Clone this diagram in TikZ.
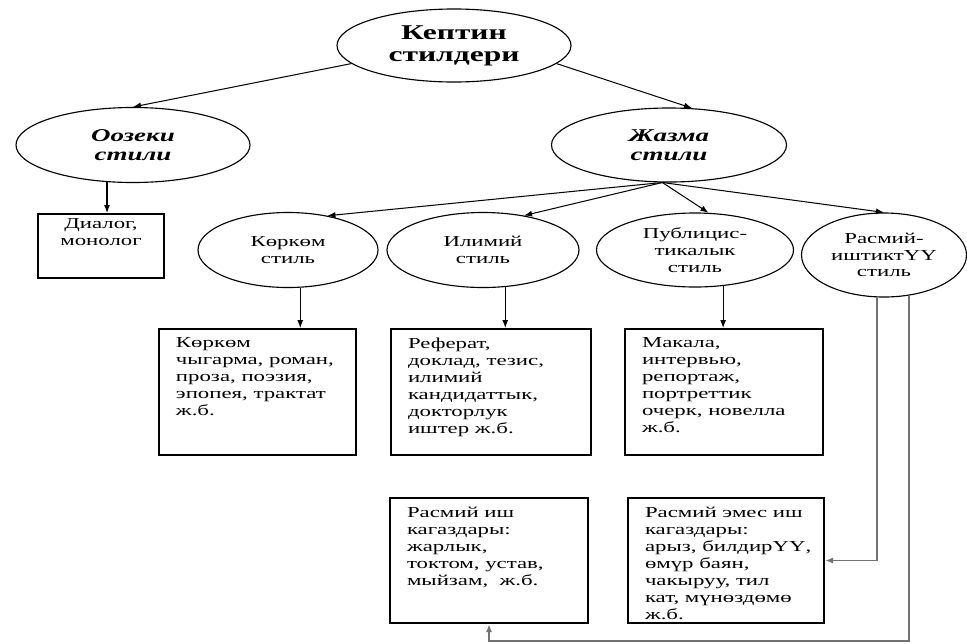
\documentclass[tikz,border=0pt]{standalone}
\usepackage{fontspec}
\setmainfont[FakeStretch=1.5]{Liberation Serif}
\usetikzlibrary{shapes.geometric,arrows.meta}

\tikzset{
  oval/.style={ellipse, draw, line width=0.02cm, inner sep=0pt, align=center,
    font=\fontsize{7.6}{8.4}\selectfont},
  card/.style={rectangle, draw, line width=0.035cm, inner sep=0pt, anchor=north west},
  link/.style={line width=0.018cm, -{Latex[length=4pt,width=3pt]}},
  greylink/.style={link, draw=black!55, line width=0.03cm},
}
\newcommand{\cardtext}[3]{\parbox[c][#2][t]{#1}{\vspace*{4.5pt}\leftskip=8.5pt\rightskip=0pt plus 1fil\parindent=0pt\fontsize{7.6}{8.5}\selectfont #3}}

\begin{document}
\begin{tikzpicture}[x=0.5pt,y=-0.5pt]
                        \useasboundingbox (0,0) rectangle (967,643);
                        {

                        % Drawing ellipses
                        \node [oval, minimum width=117pt, minimum height=36.5pt,
                          font=\fontsize{10.5}{11}\selectfont\bfseries] (kep) at (454,45.5) {Кептин\\стилдери};%
                        \node [oval, minimum width=117pt, minimum height=37.5pt,
                          font=\fontsize{9}{9.5}\selectfont\bfseries\itshape] (ooz) at (133,145) {Оозеки\\стили};%
                        \node [oval, minimum width=117.5pt, minimum height=37pt,
                          font=\fontsize{9}{9.5}\selectfont\bfseries\itshape] (jaz) at (669,145) {Жазма\\стили};%
                        \node [oval, minimum width=90pt, minimum height=37.5pt] (kork) at (288,250) {Көркөм\\стиль};%
                        \node [oval, minimum width=96pt, minimum height=37.5pt] (ilim) at (483,250) {Илимий\\стиль};%
                        \node [oval, minimum width=98.5pt, minimum height=37pt] (publ) at (695,250) {Публицис-\\тикалык\\стиль};%
                        \node [oval, minimum width=82.5pt, minimum height=42pt] (rasm) at (884,255) {Расмий-\\иштиктҮҮ\\стиль};%

                        % Drawing boxes
                        \node [card] (dial) at (37,213) {\parbox[c][32pt][t]{63pt}{\vspace*{2.5pt}\centering\fontsize{7.6}{8.5}\selectfont Диалог,\\монолог}};%
                        \node [card] (b1) at (158,328) {\cardtext{98.5pt}{63pt}{Көркөм\\чыгарма, роман,\\проза, поэзия,\\эпопея, трактат\\ж.б.}};%
                        \node [card] (b2) at (390,328) {\cardtext{100pt}{63pt}{Реферат,\\доклад, тезис,\\илимий\\кандидаттык,\\докторлук\\иштер ж.б.}};%
                        \node [card] (b3) at (624,328) {\cardtext{99pt}{63pt}{Макала,\\интервью,\\репортаж,\\портреттик\\очерк, новелла\\ж.б.}};%
                        \node [card] (b4) at (389,497) {\cardtext{99pt}{62.5pt}{Расмий иш\\кагаздары:\\жарлык,\\токтом, устав,\\мыйзам,~ ж.б.}};%
                        \node [card] (b5) at (627,497) {\cardtext{98pt}{62.5pt}{Расмий эмес иш\\кагаздары:\\арыз, билдирҮҮ,\\өмүр баян,\\чакыруу, тил\\кат, мүнөздөмө\\ж.б.}};%

                        % Drawing arrows from the top
                        \draw [link] (kep.190) -- (ooz.north);%
                        \draw [link] (kep.-10) -- (jaz.58);%
                        \draw [link] (ooz.-125) -- (ooz.-125 |- dial.north);%

                        % Drawing arrows from jaz
                        \draw [link] (jaz.260) -- (kork.41);%
                        \draw [link] (jaz.260) -- (ilim.40);%
                        \draw [link] (jaz.260) -- (publ.70);%
                        \draw [link] (jaz.260) -- (rasm.north);%

                        % Drawing arrows down to the boxes
                        \draw [link] (kork.-72) -- (kork.-72 |- b1.north);%
                        \draw [link] (ilim.-59) -- (ilim.-59 |- b2.north);%
                        \draw [link] (publ.-52) -- (publ.-52 |- b3.north);%
                        \draw [greylink] (rasm.-99.5) |- (b5.east);%
                        \draw [greylink] (rasm.-58) -- (rasm.-58 |- 0,641) -| (b4.south);%
                        }
                    \end{tikzpicture}
\end{document}
